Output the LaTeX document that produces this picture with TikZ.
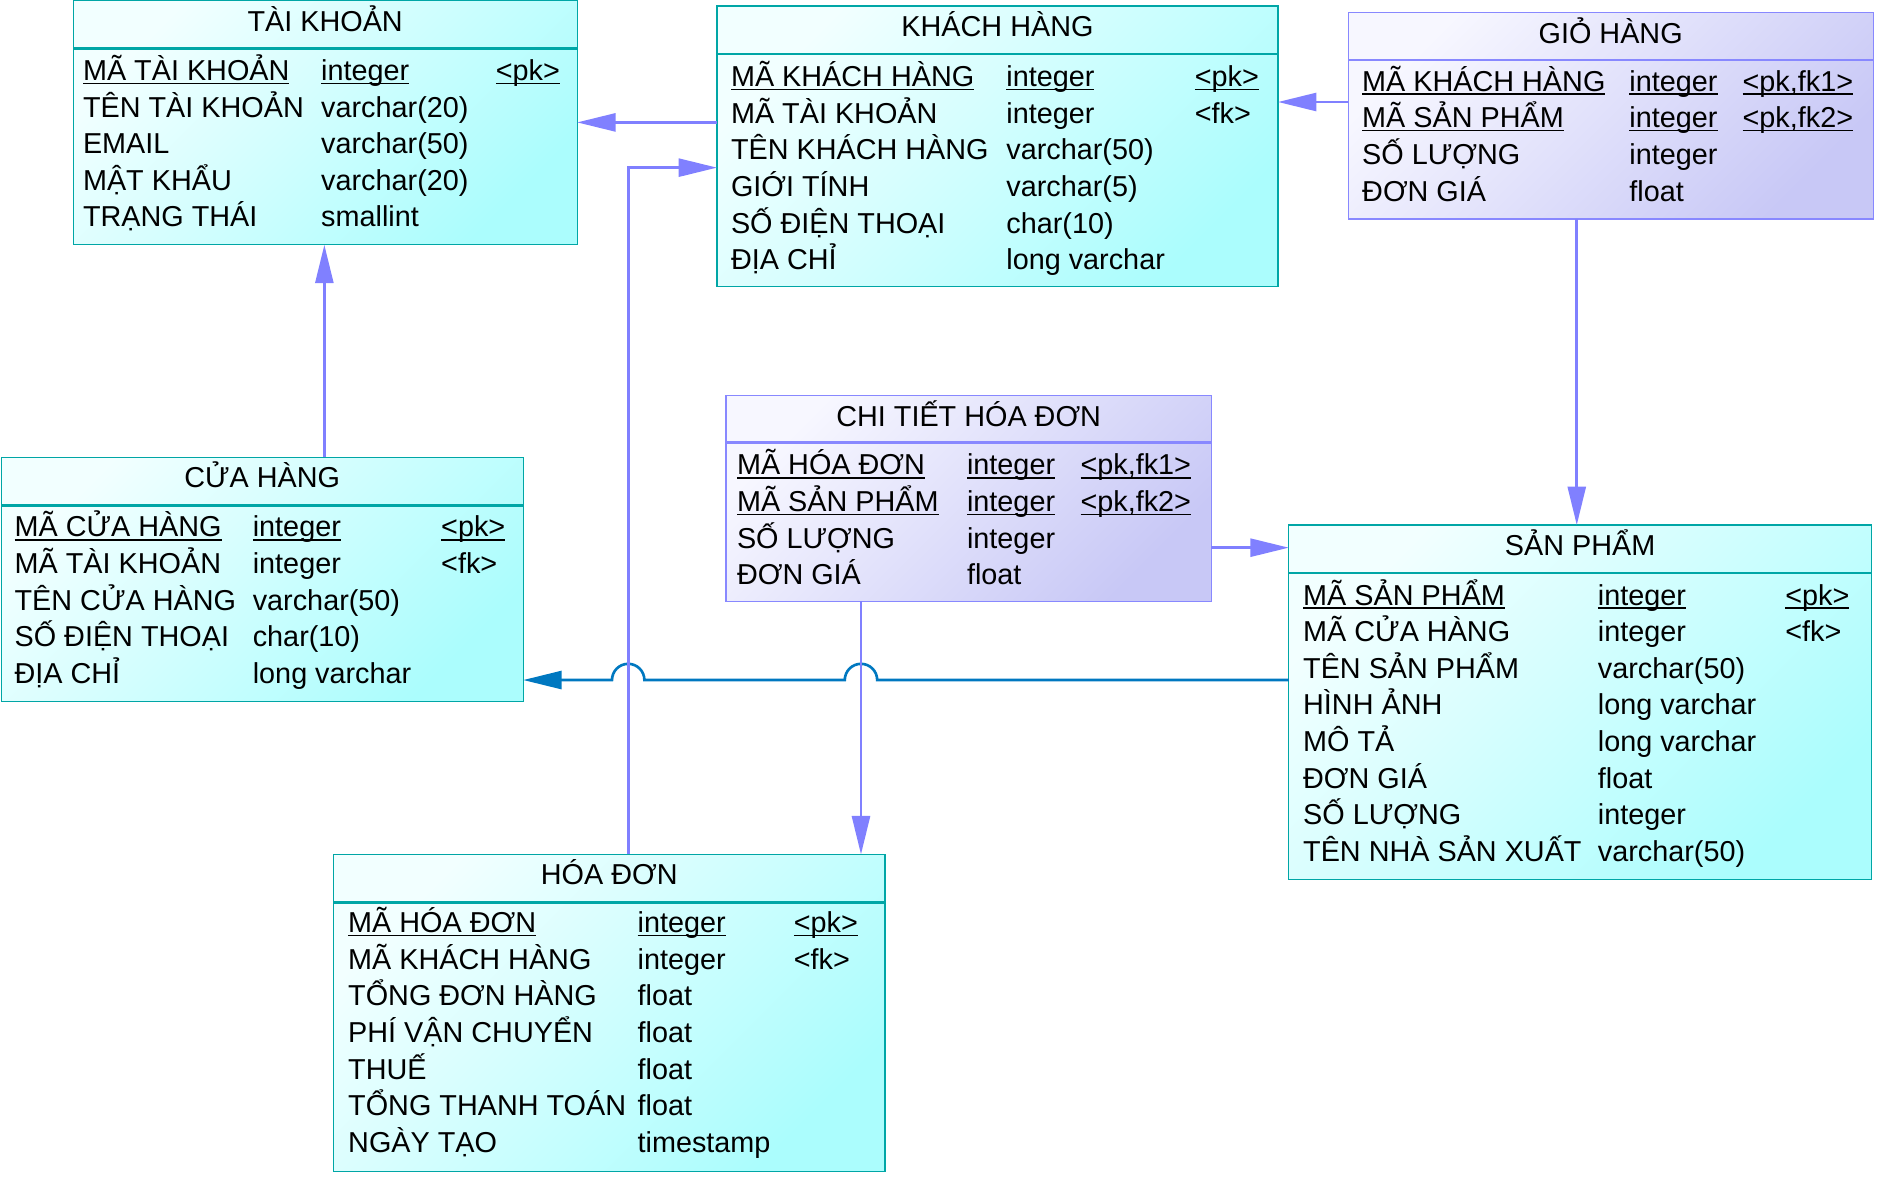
\documentclass[tikz,border=0pt]{standalone}
\usepackage{fontspec}
\setmainfont{Liberation Sans}
\usetikzlibrary{arrows.meta,fit}
\definecolor{cyL}{HTML}{F2FFFF}
\definecolor{cyD}{HTML}{ABFDFD}
\definecolor{cyB}{HTML}{00A6A6}
\definecolor{puL}{HTML}{F7F7FF}
\definecolor{puD}{HTML}{C8C8F6}
\definecolor{puB}{HTML}{8888FF}
\definecolor{lnP}{HTML}{8080FF}
\definecolor{lnB}{HTML}{0078C0}
\newsavebox\ulbox
\newcommand\ulx[1]{\sbox\ulbox{#1}\rlap{\rule[-3pt]{\wd\ulbox}{1.1pt}}\usebox\ulbox}
\tikzset{
 tbl/.style={inner sep=0pt, outer sep=0pt, line width=1.1pt},
 cyt/.style={tbl, draw=cyB, top color=cyL, bottom color=cyD, shading angle=45},
 put/.style={tbl, draw=puB, top color=puL, bottom color=puD, shading angle=45},
 cyh/.style={draw=cyB, line width=2.2pt},
 puh/.style={draw=puB, line width=2.2pt},
 cell/.style={anchor=base west, inner sep=0pt, font=\fontsize{24}{28}\selectfont},
 ttl/.style={anchor=base, inner sep=0pt, font=\fontsize{24}{28}\selectfont},
 conn/.style={draw=lnP, line width=2.2pt, -{Triangle[length=32pt,width=15pt]}},
 connb/.style={conn, draw=lnB},
}
% #1 name, #2 style prefix, #3 L, #4 T, #5 R, #6 B, #7 header line y, #8 title
\newcommand\tbox[8]{%
  \node[#2t, fit={(#3,#4) (#5,#6)}] (#1) {};
  \draw[#2h] (#3,#7) -- (#5,#7);
  \node[ttl] (#1-title) at ({(#3+#5)/2},{#4+25.5}) {#8};}
\newcommand\rowc[6]{%
  \node[cell] (#1a) at (#3,#2) {#4};
  \node[cell] (#1b) at (#5,#2) {#6};}
\newcommand\rowk[8]{%
  \node[cell] (#1a) at (#3,#2) {#4};
  \node[cell] (#1b) at (#5,#2) {#6};
  \node[cell] (#1c) at (#7,#2) {#8};}
\begin{document}
\begin{tikzpicture}[x=1pt,y=-1pt]
\useasboundingbox (0,0) rectangle (1566.7,980.8);

% TAI KHOAN
\tbox{tk}{cy}{61}{0.5}{481}{204}{40.5}{TÀI KHOẢN}
\rowk{tk1}{67}{69}{\ulx{MÃ TÀI KHOẢN}}{267.5}{\ulx{integer}}{413}{\ulx{<pk>}}
\rowc{tk2}{97.5}{69}{TÊN TÀI KHOẢN}{267.5}{varchar(20)}
\rowc{tk3}{128}{69}{EMAIL}{267.5}{varchar(50)}
\rowc{tk4}{158.5}{69}{MẬT KHẨU}{267.5}{varchar(20)}
\rowc{tk5}{189}{69}{TRẠNG THÁI}{267.5}{smallint}

% KHACH HANG
\tbox{kh}{cy}{597.5}{5}{1065}{239}{45}{KHÁCH HÀNG}
\rowk{kh1}{72.2}{609}{\ulx{MÃ KHÁCH HÀNG}}{838.5}{\ulx{integer}}{995.5}{\ulx{<pk>}}
\rowk{kh2}{102.7}{609}{MÃ TÀI KHOẢN}{838.5}{integer}{995.5}{<fk>}
\rowc{kh3}{133.2}{609}{TÊN KHÁCH HÀNG}{838.5}{varchar(50)}
\rowc{kh4}{163.7}{609}{GIỚI TÍNH}{838.5}{varchar(5)}
\rowc{kh5}{194.2}{609}{SỐ ĐIỆN THOẠI}{838.5}{char(10)}
\rowc{kh6}{224.7}{609}{ĐỊA CHỈ}{838.5}{long varchar}

% GIO HANG
\tbox{gh}{pu}{1123.5}{10.6}{1561}{182.5}{50}{GIỎ HÀNG}
\rowk{gh1}{76}{1135}{\ulx{MÃ KHÁCH HÀNG}}{1357.7}{\ulx{integer}}{1452}{\ulx{<pk,fk1>}}
\rowk{gh2}{106.5}{1135}{\ulx{MÃ SẢN PHẨM}}{1357.7}{\ulx{integer}}{1452}{\ulx{<pk,fk2>}}
\rowc{gh3}{137}{1135}{SỐ LƯỢNG}{1357.7}{integer}
\rowc{gh4}{167.5}{1135}{ĐƠN GIÁ}{1357.7}{float}

% CUA HANG
\tbox{ch}{cy}{1}{381}{436}{584.5}{421}{CỬA HÀNG}
\rowk{ch1}{447.5}{12}{\ulx{MÃ CỬA HÀNG}}{210.5}{\ulx{integer}}{367.5}{\ulx{<pk>}}
\rowk{ch2}{478}{12}{MÃ TÀI KHOẢN}{210.5}{integer}{367.5}{<fk>}
\rowc{ch3}{508.5}{12}{TÊN CỬA HÀNG}{210.5}{varchar(50)}
\rowc{ch4}{539}{12}{SỐ ĐIỆN THOẠI}{210.5}{char(10)}
\rowc{ch5}{569.5}{12}{ĐỊA CHỈ}{210.5}{long varchar}

% CHI TIET HOA DON
\tbox{ct}{pu}{605}{329.5}{1009.5}{501}{368.5}{CHI TIẾT HÓA ĐƠN}
\rowk{ct1}{395.8}{614}{\ulx{MÃ HÓA ĐƠN}}{805.7}{\ulx{integer}}{900.3}{\ulx{<pk,fk1>}}
\rowk{ct2}{426.3}{614}{\ulx{MÃ SẢN PHẨM}}{805.7}{\ulx{integer}}{900.3}{\ulx{<pk,fk2>}}
\rowc{ct3}{456.8}{614}{SỐ LƯỢNG}{805.7}{integer}
\rowc{ct4}{487.3}{614}{ĐƠN GIÁ}{805.7}{float}

% SAN PHAM
\tbox{sp}{cy}{1074}{437.5}{1559.5}{733}{477.5}{SẢN PHẨM}
\rowk{sp1}{504.2}{1085.8}{\ulx{MÃ SẢN PHẨM}}{1331.4}{\ulx{integer}}{1487.6}{\ulx{<pk>}}
\rowk{sp2}{534.7}{1085.8}{MÃ CỬA HÀNG}{1331.4}{integer}{1487.6}{<fk>}
\rowc{sp3}{565.2}{1085.8}{TÊN SẢN PHẨM}{1331.4}{varchar(50)}
\rowc{sp4}{595.7}{1085.8}{HÌNH ẢNH}{1331.4}{long varchar}
\rowc{sp5}{626.2}{1085.8}{MÔ TẢ}{1331.4}{long varchar}
\rowc{sp6}{656.7}{1085.8}{ĐƠN GIÁ}{1331.4}{float}
\rowc{sp7}{687.2}{1085.8}{SỐ LƯỢNG}{1331.4}{integer}
\rowc{sp8}{717.7}{1085.8}{TÊN NHÀ SẢN XUẤT}{1331.4}{varchar(50)}

% HOA DON
\tbox{hd}{cy}{278}{712}{737.5}{976}{752}{HÓA ĐƠN}
\rowk{hd1}{777.2}{290}{\ulx{MÃ HÓA ĐƠN}}{531.2}{\ulx{integer}}{661.3}{\ulx{<pk>}}
\rowk{hd2}{807.7}{290}{MÃ KHÁCH HÀNG}{531.2}{integer}{661.3}{<fk>}
\rowc{hd3}{838.2}{290}{TỔNG ĐƠN HÀNG}{531.2}{float}
\rowc{hd4}{868.7}{290}{PHÍ VẬN CHUYỂN}{531.2}{float}
\rowc{hd5}{899.2}{290}{THUẾ}{531.2}{float}
\rowc{hd6}{929.7}{290}{TỔNG THANH TOÁN}{531.2}{float}
\rowc{hd7}{960.2}{290}{NGÀY TẠO}{531.2}{timestamp}

% connectors
\coordinate (c8) at (0,566.7);
\draw[connb] (sp.west |- c8) -- (731,566.7)
  arc[start angle=0,end angle=180,radius=13.5pt] -- (537,566.7)
  arc[start angle=0,end angle=180,radius=13.5pt] -- (ch.east |- c8);

\coordinate (c1) at (0,102);
\draw[conn] (kh.west |- c1) -- (tk.east |- c1);
\coordinate (c2) at (523.5,139.7);
\draw[conn] (hd.north -| c2) -- (c2) -- (kh.west |- c2);
\coordinate (c3) at (0,85);
\draw[conn] (gh.west |- c3) -- (kh.east |- c3);
\coordinate (c4) at (1314,0);
\draw[conn] (gh.south -| c4) -- (sp.north -| c4);
\coordinate (c5) at (270.3,0);
\draw[conn] (ch.north -| c5) -- (tk.south -| c5);
\coordinate (c6) at (0,456.4);
\draw[conn] (ct.east |- c6) -- (sp.west |- c6);
\coordinate (c7) at (717.5,0);
\draw[conn] (ct.south -| c7) -- (hd.north -| c7);
\end{tikzpicture}
\end{document}
